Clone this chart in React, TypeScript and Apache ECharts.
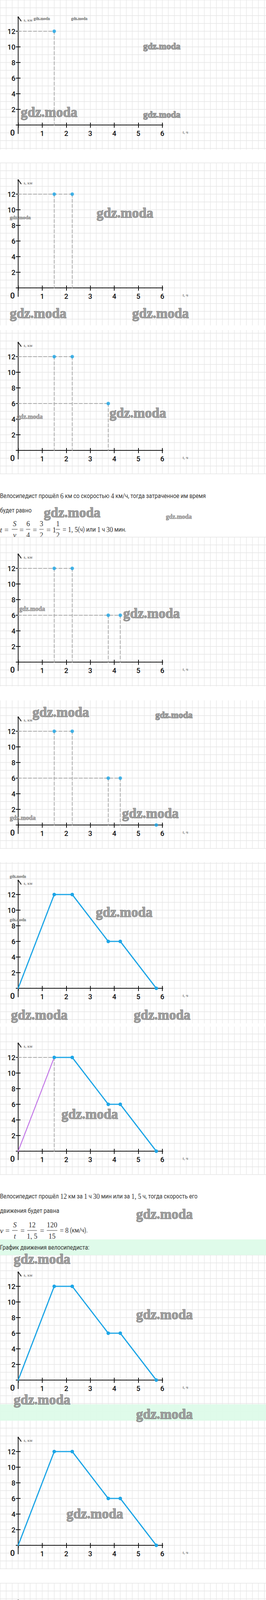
import React, { useEffect, useRef } from "react";
import * as echarts from "echarts";

// ---------------- data ----------------
const tripTimes = [0, 1.5, 2.25, 3.75, 4.25, 5.75]; // t, ч
const tripDist = [0, 12, 12, 6, 6, 0]; // s, км
const xTickLabels = ["1", "2", "3", "4", "5", "6"];
const yTickLabels = ["2", "4", "6", "8", "10", "12"];
const xAxisName = "t, ч";
const yAxisName = "s, км";

// ---------------- layout ----------------
const PAGE_W = 680;
const PAGE_H = 5643;
const X0 = 46.5;
const PX_H = 61.4;
const PX_KM = 20;
const CELL_X = PX_H / 4;
const CELL_Y = 20;
const AXIS_T = [-0.27, 7.23];
const AXIS_S = [-1.1, 13.85];

const BLUE = "#1ca5e6";
const VIOLET = "#c47be8";
const PINK = "#f35fae";
const GUIDE = "#a9a9a9";
const INK = "#111";
const TEXT = "#333";
const BAND = "#dcfbe8";

type Panel = { axisY: number; bgTop: number; bgBottom: number; kind: string; shown?: number };
const panels: Panel[] = [
  { axisY: 320, bgTop: 0, bgBottom: 383, kind: "points", shown: 1 },
  { axisY: 737, bgTop: 417, bgBottom: 833, kind: "points", shown: 2 },
  { axisY: 1153, bgTop: 845, bgBottom: 1213, kind: "points", shown: 3 },
  { axisY: 1695, bgTop: 1375, bgBottom: 1757, kind: "points", shown: 4 },
  { axisY: 2112, bgTop: 1793, bgBottom: 2173, kind: "points", shown: 5 },
  { axisY: 2530, bgTop: 2207, bgBottom: 2620, kind: "full" },
  { axisY: 2947, bgTop: 2628, bgBottom: 3007, kind: "speed" },
  { axisY: 3533, bgTop: 3213, bgBottom: 3637, kind: "full" },
  { axisY: 3956, bgTop: 3637, bgBottom: 4017, kind: "full" },
  { axisY: 4373, bgTop: 4053, bgBottom: 4447, kind: "return" },
  { axisY: 4941, bgTop: 4622, bgBottom: 5017, kind: "full" },
  { axisY: 5358, bgTop: 5040, bgBottom: 5420, kind: "total" },
];

const bands = [
  [3173, 3213],
  [3595, 3637],
  [4587, 4622],
  [5573, 5607],
];

const textLines: [number, string, boolean?][] = [
  [1270, "Велосипедист прошёл {m|6} км со скоростью {m|4} км/ч, тогда затраченное им время"],
  [1307, "будет равно"],
  [3063, "Велосипедист прошёл {m|12} км за {m|1} ч {m|30} мин или за {m|1, 5} ч, тогда скорость его"],
  [3100, "движения будет равна"],
  [3194, "График движения велосипедиста:", true],
  [4490, "Согласно графику, величина одной клетки равна {m|15} мин."],
  [4535, "Следовательно, время движения от места отдыха (на обратном пути) до"],
  [4572, "пункта {i|A} равно {m|1} ч {m|30} мин."],
  [4607, "{m|1} ч {m|30} мин.", true],
  [5475, "Согласно графику, величина одной клетки равна {m|15} мин."],
  [5520, "Следовательно, врем, затраченное на весь путь туда и обратно (включая"],
  [5555, "время ремонта и отдыха), равно {m|5} ч {m|45} мин."],
  [5591, "{m|5} ч {m|45} мин.", true],
];

const watermarks: [number, number, number][] = [
  [86, 47, 10], [182, 47, 10], [366, 118, 23], [53, 287, 35], [366, 293, 23],
  [247, 545, 35], [25, 556, 13], [25, 802, 35], [338, 802, 35],
  [280, 1057, 35], [43, 1066, 16], [112, 1312, 35], [424, 1322, 16],
  [49, 1558, 16], [315, 1570, 35], [83, 1823, 35], [397, 1830, 23],
  [312, 2082, 35], [25, 2093, 16], [25, 2243, 10],
  [245, 2335, 35], [25, 2354, 10], [28, 2598, 35], [342, 2598, 35],
  [157, 2852, 35], [348, 3108, 35], [35, 3223, 35],
  [348, 3365, 35], [35, 3583, 35], [348, 3620, 35],
  [170, 3875, 35],
  [62, 4122, 16], [348, 4133, 35], [35, 4425, 35], [348, 4420, 35],
  [87, 4675, 23], [348, 4677, 35], [35, 4992, 35], [348, 4987, 35],
  [348, 5245, 35], [35, 5408, 35], [348, 5552, 35],
];

const SANS = "Roboto, 'Noto Sans', sans-serif";
const SERIF = "'Liberation Serif', 'DejaVu Serif', serif";

function pt(i: number) {
  return [tripTimes[i], tripDist[i]];
}

function buildOption() {
  const grid: any[] = [];
  const xAxis: any[] = [];
  const yAxis: any[] = [];
  const series: any[] = [];
  const graphic: any[] = [];

  const line = (gi: number, data: any[], color: string, width: number, z: number, extra: any = {}) => ({
    type: "line",
    xAxisIndex: gi,
    yAxisIndex: gi,
    data,
    clip: false,
    silent: true,
    symbol: "none",
    lineStyle: { color, width, type: extra.dash || "solid", cap: "round", join: "round" },
    itemStyle: { color },
    z,
    ...(extra.symbol ? { symbol: extra.symbol, symbolSize: extra.symbolSize || 9, showSymbol: true } : {}),
  });

  panels.forEach((p, gi) => {
    grid.push({
      left: X0,
      top: p.axisY - 12 * PX_KM,
      width: 6 * PX_H,
      height: 12 * PX_KM,
      containLabel: false,
      outerBoundsMode: "none",
    });
    xAxis.push({
      gridIndex: gi,
      type: "value",
      min: 0,
      max: 6,
      interval: 1,
      offset: -6,
      z: 6,
      name: xAxisName,
      nameLocation: "end",
      nameGap: 52,
      nameTextStyle: { fontFamily: SERIF, fontSize: 11, color: "#555", align: "left", verticalAlign: "top", padding: [18, 0, 0, 0] },
      axisLine: { show: false, onZero: false },
      axisTick: { show: true, length: 13, lineStyle: { color: INK, width: 2 } },
      axisLabel: {
        margin: 18,
        fontSize: 18,
        fontWeight: 500,
        fontFamily: SANS,
        color: INK,
        formatter: (v: number) => (v >= 1 && v <= 6 ? xTickLabels[v - 1] : ""),
      },
      splitLine: { show: false },
    });
    yAxis.push({
      gridIndex: gi,
      type: "value",
      min: 0,
      max: 12,
      interval: 2,
      offset: -6,
      z: 6,
      name: yAxisName,
      nameLocation: "end",
      nameGap: 29,
      nameTextStyle: { fontFamily: SERIF, fontSize: 11, color: "#555", align: "left", verticalAlign: "middle", padding: [0, 0, 0, 8] },
      axisLine: { show: false, onZero: false },
      axisTick: { show: true, length: 12, lineStyle: { color: INK, width: 2 } },
      axisLabel: {
        margin: 13,
        fontSize: 18,
        fontWeight: 500,
        fontFamily: SANS,
        color: INK,
        formatter: (v: number) => (v >= 2 ? yTickLabels[v / 2 - 1] : ""),
      },
      splitLine: { show: false },
    });

    // axis lines + arrows
    series.push(line(gi, [[AXIS_T[0], 0], [AXIS_T[1], 0]], INK, 2, 6));
    series.push(line(gi, [[0, AXIS_S[0]], [0, AXIS_S[1]]], INK, 2, 6));
    series.push(line(gi, [[AXIS_T[1] - 0.15, 0.58], [AXIS_T[1], 0], [AXIS_T[1] - 0.15, -0.58]], INK, 2, 6));
    series.push(line(gi, [[-0.12, AXIS_S[1] - 0.53], [0, AXIS_S[1]], [0.12, AXIS_S[1] - 0.53]], INK, 2, 6));

    const guide = (i: number, horiz = true, vert = true) => {
      const [t, s] = pt(i);
      if (horiz) series.push(line(gi, [[0, s], [t, s]], GUIDE, 2, 7, { dash: [8, 5] }));
      if (vert) series.push(line(gi, [[t, s], [t, 0]], GUIDE, 2, 7, { dash: [8, 5] }));
    };
    const blueLine = (idxs: number[]) =>
      series.push(
        line(
          gi,
          idxs.map((i) => (tripTimes[i] === 0 && tripDist[i] === 0 ? { value: pt(i), symbol: "none" } : pt(i))),
          BLUE,
          3,
          8,
          { symbol: "circle", symbolSize: 9 }
        )
      );

    if (p.kind === "points") {
      const n = p.shown || 1;
      const idxs = [];
      for (let i = 1; i <= n; i++) idxs.push(i);
      idxs.forEach((i) => {
        if (tripDist[i] > 0) guide(i);
      });
      series.push({
        type: "scatter",
        xAxisIndex: gi,
        yAxisIndex: gi,
        data: idxs.map(pt),
        symbolSize: 9,
        itemStyle: { color: BLUE },
        silent: true,
        z: 9,
      });
    } else if (p.kind === "full") {
      blueLine([0, 1, 2, 3, 4, 5]);
    } else if (p.kind === "speed") {
      guide(1);
      series.push(line(gi, [pt(0), pt(1)], VIOLET, 2.5, 8));
      blueLine([1, 2, 3, 4, 5]);
    } else if (p.kind === "return") {
      guide(4, false, true);
      blueLine([0, 1, 2, 3, 4]);
      series.push(line(gi, [pt(4), pt(5)], VIOLET, 2.5, 8));
      series.push(line(gi, [[tripTimes[4], 0], [tripTimes[5], 0]], PINK, 4, 9, { symbol: "circle", symbolSize: 9 }));
    } else if (p.kind === "total") {
      blueLine([0, 1, 2, 3, 4, 5]);
      series.push(line(gi, [[tripTimes[0], 0], [tripTimes[5], 0]], PINK, 4, 9, { symbol: "circle", symbolSize: 9 }));
    }

    // background with squared paper
    graphic.push({
      type: "rect",
      silent: true,
      z: 2,
      shape: { x: 0, y: p.bgTop, width: PAGE_W, height: p.bgBottom - p.bgTop },
      style: { fill: "#ffffff" },
    });
    const kStart = Math.ceil((0 - X0) / CELL_X);
    for (let k = kStart; X0 + k * CELL_X <= PAGE_W; k++) {
      const x = X0 + k * CELL_X;
      graphic.push({
        type: "line",
        silent: true,
        z: 3,
        shape: { x1: x, y1: p.bgTop, x2: x, y2: p.bgBottom },
        style: { stroke: "#e6e6e6", lineWidth: 1.3 },
      });
    }
    const jStart = Math.ceil((p.bgTop - p.axisY) / CELL_Y);
    for (let j = jStart; p.axisY + j * CELL_Y <= p.bgBottom; j++) {
      const y = p.axisY + j * CELL_Y;
      graphic.push({
        type: "line",
        silent: true,
        z: 3,
        shape: { x1: 0, y1: y, x2: PAGE_W, y2: y },
        style: { stroke: "#e6e6e6", lineWidth: 1.3 },
      });
    }
    // origin label
    graphic.push({
      type: "text",
      silent: true,
      z: 7,
      x: 32,
      y: p.axisY + 20,
      style: { text: "0", fontFamily: SANS, fontWeight: 500, fontSize: 21, fill: INK, align: "center", verticalAlign: "middle" },
    });
  });

  // green answer bands
  bands.forEach(([a, b]) => {
    graphic.push({
      type: "rect",
      silent: true,
      z: 4,
      shape: { x: 0, y: a, width: PAGE_W, height: b - a },
      style: { fill: BAND, opacity: 0.92 },
    });
  });

  const rich = {
    m: { fontFamily: SERIF, fontSize: 19, fill: TEXT },
    i: { fontFamily: SERIF, fontStyle: "italic", fontSize: 19, fill: TEXT },
  };
  textLines.forEach(([y, text, inBand]) => {
    graphic.push({
      type: "text",
      silent: true,
      z: inBand ? 5 : 1,
      x: 0,
      y,
      scaleX: 0.89,
      style: { text, rich, fontFamily: SANS, fontSize: 16, fill: TEXT, verticalAlign: "middle" },
    });
  });

  // formulas
  const mtext = (x: number, y: number, text: string, align = "center", italic = false, size = 19) => ({
    type: "text",
    silent: true,
    z: 1,
    x,
    y,
    style: {
      text,
      fontFamily: SERIF,
      fontStyle: italic ? "italic" : "normal",
      fontSize: size,
      fill: TEXT,
      align,
      verticalAlign: "middle",
    },
  });
  const frac = (cx: number, bar: number, num: string, den: string, w: number, italic = false) => {
    graphic.push(mtext(cx, bar - 14, num, "center", italic, 18));
    graphic.push(mtext(cx, bar + 15, den, "center", italic, 18));
    graphic.push({
      type: "line",
      silent: true,
      z: 1,
      shape: { x1: cx - w / 2, y1: bar, x2: cx + w / 2, y2: bar },
      style: { stroke: TEXT, lineWidth: 1 },
    });
  };
  // formula 1
  const f1 = 1356;
  graphic.push(mtext(0, f1, "t", "left", true));
  graphic.push(mtext(16.5, f1, "="));
  frac(37.5, f1 - 1, "S", "v", 15, true);
  graphic.push(mtext(55, f1, "="));
  frac(72, f1 - 1, "6", "4", 11);
  graphic.push(mtext(89, f1, "="));
  frac(106, f1 - 1, "3", "2", 11);
  graphic.push(mtext(124, f1, "="));
  graphic.push(mtext(134, f1, "1", "left"));
  frac(148, f1 - 1, "1", "2", 11);
  graphic.push({
    type: "text",
    silent: true,
    z: 1,
    x: 160,
    y: f1,
    scaleX: 0.89,
    style: { text: "{m|= 1, 5}(ч) или {m|1} ч {m|30} мин.", rich, fontFamily: SANS, fontSize: 16, fill: TEXT, verticalAlign: "middle" },
  });
  // formula 2
  const f2 = 3150;
  graphic.push(mtext(0, f2, "v", "left", true));
  graphic.push(mtext(19, f2, "="));
  frac(38, f2, "S", "t", 14, true);
  graphic.push(mtext(57.5, f2, "="));
  frac(82, f2, "12", "1, 5", 25);
  graphic.push(mtext(107.5, f2, "="));
  frac(133, f2, "120", "15", 27);
  graphic.push({
    type: "text",
    silent: true,
    z: 1,
    x: 153,
    y: f2,
    scaleX: 0.89,
    style: { text: "{m|= 8} (км/ч).", rich, fontFamily: SANS, fontSize: 16, fill: TEXT, verticalAlign: "middle" },
  });

  // watermarks
  watermarks.forEach(([x, y, size]) => {
    graphic.push({
      type: "text",
      silent: true,
      z: 20,
      x,
      y,
      style: {
        text: "gdz.moda",
        fontFamily: SERIF,
        fontWeight: "bold",
        fontSize: size,
        fill: "#a0a0a0",
        stroke: "#3f3f3f",
        lineWidth: size > 20 ? 1 : 0.5,
        verticalAlign: "middle",
      },
    });
  });

  return {
    animation: false,
    backgroundColor: "#ffffff",
    grid,
    xAxis,
    yAxis,
    series,
    graphic: { elements: graphic },
  };
}

export default function App() {
  const ref = useRef<HTMLDivElement>(null);
  useEffect(() => {
    if (!ref.current) return;
    const chart = echarts.init(ref.current, null, { renderer: "svg", width: PAGE_W, height: PAGE_H });
    chart.setOption(buildOption() as any);
    return () => chart.dispose();
  }, []);
  return (
    <div
      ref={ref}
      style={{ position: "absolute", left: 0, top: 0, width: PAGE_W, height: PAGE_H }}
    />
  );
}
